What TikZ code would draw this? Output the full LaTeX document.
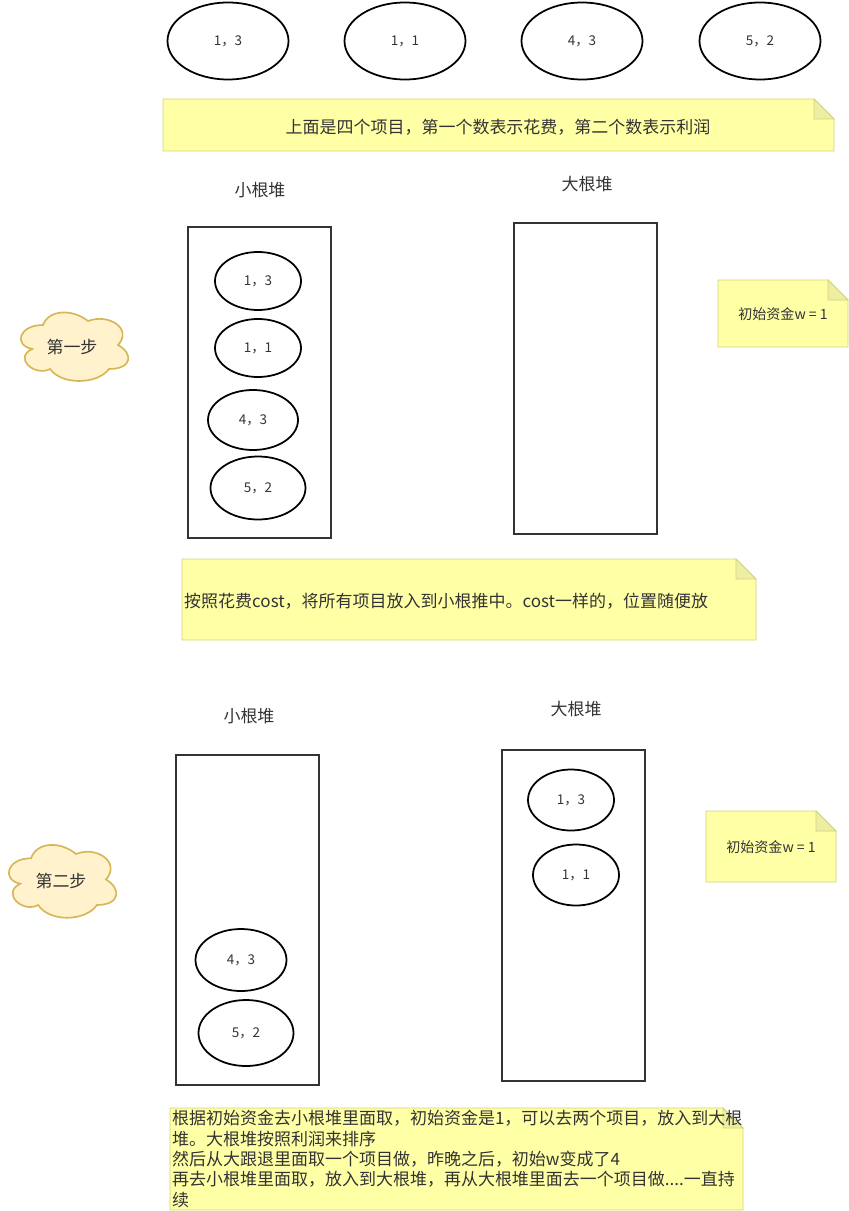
\documentclass[tikz,border=0pt]{standalone}
\usepackage{fontspec}
\setmainfont{Noto Sans CJK SC}
\usetikzlibrary{shapes.geometric}
\definecolor{ink}{HTML}{333333}
\definecolor{notefill}{HTML}{FFFFA6}
\definecolor{noteline}{HTML}{D2D27C}
\definecolor{notefold}{HTML}{EEEEA2}
\definecolor{cloudfill}{HTML}{FFF2CC}
\definecolor{cloudline}{HTML}{D6B656}

\begin{document}
\begin{tikzpicture}[x=0.03cm,y=-0.03cm,
		item/.style={draw=black, ellipse, line width=1.5pt, inner sep=0pt, text=ink, font=\fontsize{11.5}{13}\selectfont},
		heap/.style={draw=ink, line width=1.7pt, inner sep=0pt, minimum width=4.29cm},
		title/.style={text=ink, inner sep=0pt, font=\fontsize{14.5}{17.4}\selectfont},
		small/.style={text=ink, inner sep=0pt, font=\fontsize{12}{14}\selectfont},
		note/.style={fill=notefill, draw=noteline, line width=0.8pt},
		fold/.style={fill=notefold, draw=noteline, line width=0.8pt},
		cloudy/.style={fill=cloudfill, draw=cloudline, line width=1.4pt}]
		\useasboundingbox (0,0) rectangle (849,1211);
		
		% the four projects
		\node[item, minimum width=3.63cm, minimum height=2.31cm] (p1) at (228,41) {1，3};
		\node[item, minimum width=3.63cm, minimum height=2.31cm] (p2) at (405,41) {1，1};
		\node[item, minimum width=3.63cm, minimum height=2.31cm] (p3) at (582,41) {4，3};
		\node[item, minimum width=3.63cm, minimum height=2.31cm] (p4) at (760,41) {5，2};
		
		\draw[note] (163,99) -- (814,99) -- (834,119) -- (834,151) -- (163,151) -- cycle;
		\draw[fold] (814,99) -- (814,119) -- (834,119) -- cycle;
		\node[title] (n0) at (498,127) {上面是四个项目，第一个数表示花费，第二个数表示利润};
		
		% step 1
		\begin{scope}[shift={(13,305)}, xscale=120, yscale=80]
			\draw[cloudy] (0.25,0.25) .. controls (0.05,0.25) and (0,0.5) .. (0.16,0.55)
			.. controls (0,0.66) and (0.18,0.9) .. (0.31,0.8)
			.. controls (0.4,1) and (0.7,1) .. (0.8,0.8)
			.. controls (1,0.8) and (1,0.6) .. (0.875,0.5)
			.. controls (1,0.3) and (0.8,0.1) .. (0.625,0.2)
			.. controls (0.5,0.05) and (0.3,0.05) .. (0.25,0.25) -- cycle;
		\end{scope}
		\node[title] (s1) at (72,347) {第一步};
		
		\node[title] (l1) at (260,190) {小根堆};
		\node[title] (g1) at (587,184) {大根堆};
		\node[heap, minimum height=9.33cm] (small1) at (259.5,382.5) {};
		\node[heap, minimum height=9.33cm] (big1) at (585.5,378.5) {};
		
		\node[item, minimum width=2.58cm, minimum height=1.74cm] (a1) at (258,281) {1，3};
		\node[item, minimum width=2.58cm, minimum height=1.74cm] (a2) at (258,348) {1，1};
		\node[item, minimum width=2.70cm, minimum height=1.80cm] (a3) at (253,420) {4，3};
		\node[item, minimum width=2.85cm, minimum height=1.89cm] (a4) at (258,488) {5，2};
		
		\draw[note] (718,280) -- (828,280) -- (848,300) -- (848,347) -- (718,347) -- cycle;
		\draw[fold] (828,280) -- (828,300) -- (848,300) -- cycle;
		\node[small] (w1) at (783,314) {初始资金w = 1};
		
		\draw[note] (182,559) -- (736,559) -- (756,579) -- (756,640) -- (182,640) -- cycle;
		\draw[fold] (736,559) -- (736,579) -- (756,579) -- cycle;
		\node[title, anchor=west] (n1) at (184,601) {按照花费cost，将所有项目放入到小根推中。cost一样的，位置随便放};
		
		% step 2
		\begin{scope}[shift={(1,837)}, xscale=120, yscale=85]
			\draw[cloudy] (0.25,0.25) .. controls (0.05,0.25) and (0,0.5) .. (0.16,0.55)
			.. controls (0,0.66) and (0.18,0.9) .. (0.31,0.8)
			.. controls (0.4,1) and (0.7,1) .. (0.8,0.8)
			.. controls (1,0.8) and (1,0.6) .. (0.875,0.5)
			.. controls (1,0.3) and (0.8,0.1) .. (0.625,0.2)
			.. controls (0.5,0.05) and (0.3,0.05) .. (0.25,0.25) -- cycle;
		\end{scope}
		\node[title] (s2) at (61,881) {第二步};
		
		\node[title] (l2) at (249,716) {小根堆};
		\node[title] (g2) at (576,709) {大根堆};
		\node[heap, minimum height=9.90cm] (small2) at (247.5,920) {};
		\node[heap, minimum height=9.93cm] (big2) at (573.5,915.5) {};
		
		\node[item, minimum width=2.58cm, minimum height=1.83cm] (b1) at (571,800) {1，3};
		\node[item, minimum width=2.58cm, minimum height=1.83cm] (b2) at (576,875) {1，1};
		\node[item, minimum width=2.73cm, minimum height=1.86cm] (b3) at (241,960) {4，3};
		\node[item, minimum width=2.85cm, minimum height=1.98cm] (b4) at (246,1033) {5，2};
		
		\draw[note] (706,811) -- (816,811) -- (836,831) -- (836,882) -- (706,882) -- cycle;
		\draw[fold] (816,811) -- (816,831) -- (836,831) -- cycle;
		\node[small] (w2) at (771,847) {初始资金w = 1};
		
		\draw[note] (170,1108) -- (723,1108) -- (743,1128) -- (743,1210) -- (170,1210) -- cycle;
		\draw[fold] (723,1108) -- (723,1128) -- (743,1128) -- cycle;
		\node[title, anchor=north west, align=left] (n2) at (172,1110) {根据初始资金去小根堆里面取，初始资金是1，可以去两个项目，放入到大根\\
			堆。大根堆按照利润来排序\\
			然后从大跟退里面取一个项目做，昨晚之后，初始w变成了4\\
			再去小根堆里面取，放入到大根堆，再从大根堆里面去一个项目做....一直持\\
			续};
	\end{tikzpicture}
\end{document}
